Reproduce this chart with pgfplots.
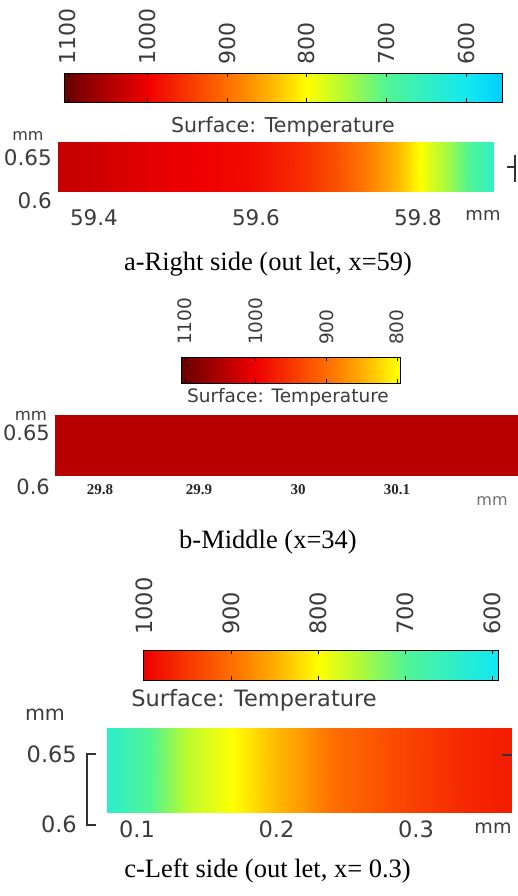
\documentclass[border=0pt]{standalone}
\usepackage{pgfplots}
\pgfplotsset{compat=1.18}
\usepackage{fontspec}
\setmainfont{Liberation Serif}
\newfontfamily\dv{DejaVu Sans}
\definecolor{lab}{RGB}{60,60,60}
\newcommand{\fs}[1]{\fontsize{#1bp}{#1bp}\selectfont}
\pgfplotsset{
  colormap={comsol}{rgb255(0pt)=(0,205,255); rgb255(5pt)=(20,232,240); rgb255(15pt)=(80,245,150); rgb255(20pt)=(170,250,60); rgb255(25pt)=(255,255,0); rgb255(30pt)=(255,175,0); rgb255(35pt)=(255,110,0); rgb255(45pt)=(240,0,0); rgb255(55pt)=(110,0,0); rgb255(56pt)=(100,0,0)},
  cbar/.style={scale only axis, anchor=north west, ymin=0, ymax=1, ytick=\empty,
    axis on top, x dir=reverse, xticklabel pos=upper, tick align=inside, major tick length=4bp,
    axis line style={black, line width=0.7bp}, xtick style={black, line width=0.8bp},
    xticklabel style={rotate=90, anchor=west, inner sep=0pt, text=lab},
    point meta min=550, point meta max=1110},
  dom/.style={scale only axis, anchor=north west, axis line style={draw=none},
    tick style={draw=none}, major tick length=0pt,
    point meta min=550, point meta max=1110,
    yticklabel style={anchor=east, inner sep=0pt, text=lab},
    xticklabel style={anchor=center, inner sep=0pt, text=lab}},
}
\begin{document}
\begin{tikzpicture}
\useasboundingbox (0,0) rectangle (518bp,-896bp);
\fill[white] (0,0) rectangle (518bp,-896bp);

% ---------------- panel a ----------------
\begin{axis}[cbar, at={(64bp,-73bp)}, width=438bp, height=29bp,
  xmin=555, xmax=1105, xtick={600,700,800,900,1000,1100},
  xticklabels={600,700,800,900,1000,1100}, xticklabel shift=8bp,
  xticklabel style={font=\dv\fs{22}}]
\addplot[surf, shader=interp, mesh/cols=10, point meta=x] coordinates {
(1105,0) (1100,0) (1000,0) (900,0) (850,0) (800,0) (750,0) (700,0) (600,0) (555,0)
(1105,1) (1100,1) (1000,1) (900,1) (850,1) (800,1) (750,1) (700,1) (600,1) (555,1)};
\end{axis}
\begin{axis}[dom, at={(58bp,-142bp)}, width=435bp, height=59bp,
  xmin=59.3556, xmax=59.8926, ymin=0.6, ymax=0.6686,
  xtick={59.4,59.6,59.8}, xticklabels={59.4,59.6,59.8},
  ytick={0.6,0.65}, yticklabels={0.6,0.65}, yticklabel shift=6bp,
  xticklabel style={yshift=-17bp}, tick label style={font=\dv\fs{21.5}}]
\addplot[surf, shader=interp, mesh/cols=10, point meta=explicit] coordinates {
(59.3556,0.6116) [1035] (59.4691,0.6116) [1010] (59.5926,0.6116) [990] (59.6543,0.6116) [960] (59.6950,0.6116) [930]
(59.7370,0.6116) [890] (59.7778,0.6116) [840] (59.8025,0.6116) [800] (59.8395,0.6116) [740] (59.8926,0.6116) [650]
(59.3556,0.6686) [1035] (59.4691,0.6686) [1010] (59.5926,0.6686) [990] (59.6543,0.6686) [960] (59.6950,0.6686) [930]
(59.7370,0.6686) [890] (59.7778,0.6686) [840] (59.8025,0.6686) [800] (59.8395,0.6686) [740] (59.8926,0.6686) [650]};
\end{axis}
\node[anchor=base, text=lab, font=\dv\fs{20.5}, inner sep=0pt] at (283bp,-132bp) {Surface: Temperature};
\node[anchor=base, text=lab, font=\dv\fs{16}, inner sep=0pt] at (28bp,-140bp) {mm};
\node[anchor=base, text=lab, font=\dv\fs{18}, inner sep=0pt] at (483bp,-220bp) {mm};
\draw[black!80, line width=1.1bp] (515bp,-155bp) -- (515bp,-182bp);
\draw[black!80, line width=1.1bp] (507bp,-167bp) -- (515bp,-167bp);
\node[anchor=base, font=\fs{26.5}, inner sep=0pt] at (268bp,-270bp) {a-Right side (out let, x=59)};

% ---------------- panel b ----------------
\begin{axis}[cbar, at={(181bp,-357bp)}, width=219bp, height=26bp,
  xmin=796, xmax=1106, xtick={800,900,1000,1100},
  xticklabels={800,900,1000,1100}, xticklabel shift=12bp,
  xticklabel style={font=\dv\fs{18.5}}]
\addplot[surf, shader=interp, mesh/cols=7, point meta=x] coordinates {
(1106,0) (1100,0) (1000,0) (900,0) (850,0) (800,0) (796,0)
(1106,1) (1100,1) (1000,1) (900,1) (850,1) (800,1) (796,1)};
\end{axis}
\begin{axis}[dom, at={(55bp,-415bp)}, width=463bp, height=72bp,
  xmin=29.7545, xmax=30.2222, ymin=0.6, ymax=0.6667,
  xtick={29.8,29.9,30,30.1}, xticklabels={29.8,29.9,30,30.1},
  ytick={0.6,0.65}, yticklabels={0.6,0.65}, yticklabel shift=5bp,
  yticklabel style={font=\dv\fs{21}},
  xticklabel style={yshift=-3bp, font=\bfseries\fs{15}, text=black!85}]
\addplot[surf, shader=interp, mesh/cols=2, point meta=explicit] coordinates {
(29.7545,0.6111) [1042] (30.2222,0.6111) [1042]
(29.7545,0.6667) [1042] (30.2222,0.6667) [1042]};
\end{axis}
\node[anchor=base, text=lab, font=\dv\fs{18.5}, inner sep=0pt] at (288bp,-402bp) {Surface: Temperature};
\node[anchor=base, text=lab, font=\dv\fs{16.5}, inner sep=0pt] at (31bp,-420bp) {mm};
\node[anchor=base, text=black!55, font=\dv\fs{16}, inner sep=0pt] at (492bp,-505bp) {mm};
\node[anchor=base, font=\fs{26.5}, inner sep=0pt] at (268bp,-548bp) {b-Middle (x=34)};

% ---------------- panel c ----------------
\begin{axis}[cbar, at={(143bp,-650bp)}, width=355bp, height=30bp,
  xmin=594, xmax=1001, xtick={600,700,800,900,1000},
  xticklabels={600,700,800,900,1000}, xticklabel shift=15bp,
  xticklabel style={font=\dv\fs{22.5}}]
\addplot[surf, shader=interp, mesh/cols=9, point meta=x] coordinates {
(1001,0) (1000,0) (900,0) (850,0) (800,0) (750,0) (700,0) (600,0) (594,0)
(1001,1) (1000,1) (900,1) (850,1) (800,1) (750,1) (700,1) (600,1) (594,1)};
\end{axis}
\begin{axis}[dom, at={(87bp,-754bp)}, width=425bp, height=70bp,
  xmin=0.06416, xmax=0.36882, ymin=0.6, ymax=0.65, clip=false,
  xtick={0.1,0.2,0.3}, xticklabels={0.1,0.2,0.3},
  ytick={0.6,0.65}, yticklabels={0.6,0.65}, yticklabel shift=10bp,
  xticklabel style={yshift=-5bp},
  tick label style={font=\dv\fs{22.5}}]
\addplot[surf, shader=interp, mesh/cols=10, point meta=explicit] coordinates {
(0.07849,0.60857) [640] (0.10932,0.60857) [700] (0.13584,0.60857) [760] (0.16882,0.60857) [800] (0.19319,0.60857) [835]
(0.21685,0.60857) [865] (0.24050,0.60857) [900] (0.28853,0.60857) [935] (0.33656,0.60857) [965] (0.36882,0.60857) [975]
(0.07849,0.66857) [640] (0.10932,0.66857) [700] (0.13584,0.66857) [760] (0.16882,0.66857) [800] (0.19319,0.66857) [835]
(0.21685,0.66857) [865] (0.24050,0.66857) [900] (0.28853,0.66857) [935] (0.33656,0.66857) [965] (0.36882,0.66857) [975]};
\end{axis}
\draw[black!80, line width=1.2bp] (96bp,-754bp) -- (87bp,-754bp) -- (87bp,-825bp) -- (96bp,-825bp);
\draw[black!80, line width=1.1bp] (502bp,-755bp) -- (512bp,-755bp);
\node[anchor=base, text=lab, font=\dv\fs{22.5}, inner sep=0pt] at (254bp,-706bp) {Surface: Temperature};
\node[anchor=base, text=lab, font=\dv\fs{20.5}, inner sep=0pt] at (45bp,-720bp) {mm};
\node[anchor=base, text=lab, font=\dv\fs{19}, inner sep=0pt] at (493bp,-833bp) {mm};
\node[anchor=base, font=\fs{26.5}, inner sep=0pt] at (267.5bp,-877bp) {c-Left side (out let, x= 0.3)};
\end{tikzpicture}
\end{document}
